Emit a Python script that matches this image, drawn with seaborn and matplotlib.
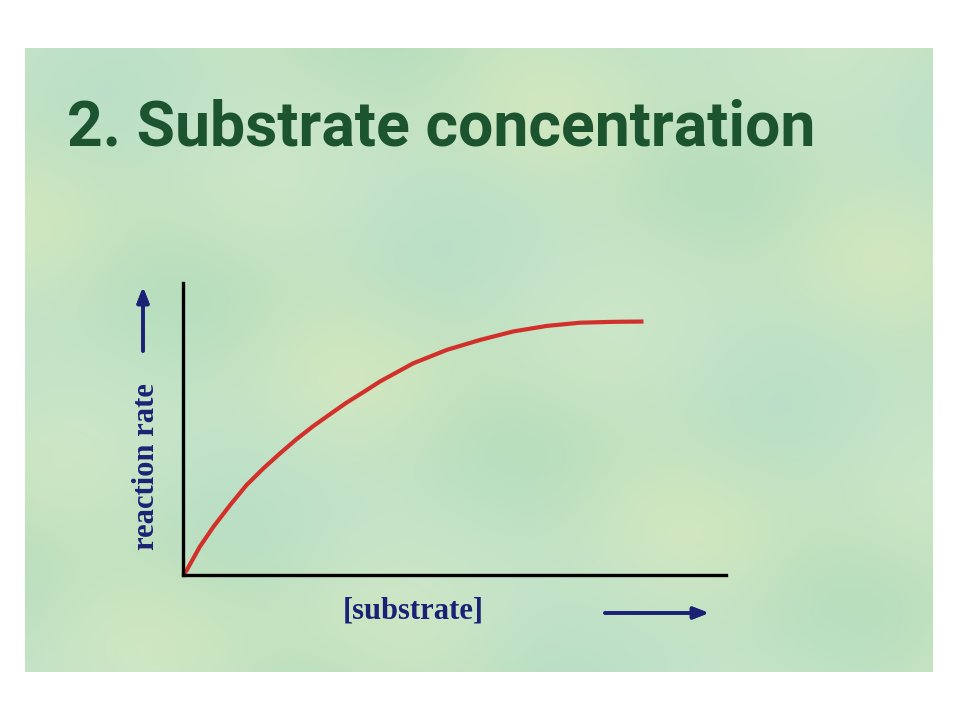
import numpy as np
import pandas as pd
import matplotlib
matplotlib.use("Agg")
import matplotlib.pyplot as plt
import seaborn as sns

# ---- data ----
substrate = [0.0, 0.07, 0.31, 0.56, 0.87, 1.17, 1.48, 1.79, 2.09, 2.40, 2.71, 3.01,
             3.32, 3.63, 4.24, 4.86, 5.47, 6.08, 6.70, 7.31, 7.92, 8.48]
rate      = [0.0, 0.17, 0.97, 1.65, 2.40, 3.08, 3.65, 4.17, 4.65, 5.10, 5.51, 5.90,
             6.26, 6.63, 7.25, 7.71, 8.05, 8.34, 8.53, 8.64, 8.67, 8.68]
title_text = "2. Substrate concentration"
xlabel_text = "[substrate]"
ylabel_text = "reaction rate"

df = pd.DataFrame({"substrate": substrate, "rate": rate})

sns.set_style("white")
plt.rcParams["font.family"] = ["DejaVu Sans"]

fig = plt.figure(figsize=(9.6, 7.2), dpi=100)
fig.patch.set_facecolor("white")

# slide background (smooth mottled green)
bg = fig.add_axes([25/960, 48/720, 908/960, 624/720])
H, W = 200, 290
yy, xx = np.mgrid[0:H, 0:W]
f1 = 0.5 + 0.5*np.sin(xx/23.0 + yy/31.0) * np.cos(yy/19.0 - xx/41.0)
f2 = 0.5 + 0.5*np.sin(xx/37.0 - yy/17.0 + 1.3)
c_a = np.array([208, 231, 192]) / 255.0
c_b = np.array([184, 222, 190]) / 255.0
c_c = np.array([194, 227, 212]) / 255.0
img = (c_a[None, None, :] * (1 - f1[..., None]) + c_b[None, None, :] * f1[..., None])
img = img * (1 - 0.4*f2[..., None]) + c_c[None, None, :] * 0.4*f2[..., None]
bg.imshow(np.clip(img, 0, 1), aspect="auto", interpolation="bicubic")
bg.set_axis_off()

# title
fig.text(67/960, 1 - 145/720, title_text, fontsize=45, fontweight="bold",
         color="#1d5430", ha="left", va="baseline",
         family=["Roboto", "Liberation Sans", "DejaVu Sans"])

# main axes
ax = fig.add_axes([183/960, 1 - 575/720, 543/960, 292/720])
ax.patch.set_alpha(0)
sns.lineplot(data=df, x="substrate", y="rate", ax=ax, color="#d2302a",
             linewidth=3.0, solid_capstyle="butt", solid_joinstyle="round", sort=False)
ax.set_xlim(0, 10)
ax.set_ylim(0, 10)
ax.set_xticks([])
ax.set_yticks([])
ax.set_xlabel("")
ax.set_ylabel("")
for side in ["top", "right"]:
    ax.spines[side].set_visible(False)
for side in ["left", "bottom"]:
    ax.spines[side].set_color("black")
    ax.spines[side].set_linewidth(2.4)

serif = ["Liberation Serif", "DejaVu Serif"]
navy = "#1b2275"
fig.text(413/960, 1 - 611/720, xlabel_text, fontsize=22, fontweight="bold",
         color=navy, ha="center", va="center", family=serif)
fig.text(146/960, 1 - 467/720, ylabel_text, fontsize=22, fontweight="bold",
         color=navy, ha="center", va="center", rotation=90, family=serif)

# arrows
arrow_kw = dict(arrowstyle="-|>,head_length=0.9,head_width=0.35", color=navy, lw=2.6,
                shrinkA=0, shrinkB=0)
fig.add_artist(plt.annotate("", xy=(143/960, 1 - 287/720), xytext=(143/960, 1 - 351/720),
                            xycoords="figure fraction", textcoords="figure fraction",
                            arrowprops=arrow_kw))
fig.add_artist(plt.annotate("", xy=(709/960, 1 - 613/720), xytext=(605/960, 1 - 613/720),
                            xycoords="figure fraction", textcoords="figure fraction",
                            arrowprops=arrow_kw))

fig.savefig("out.png", dpi=100, facecolor="white")
